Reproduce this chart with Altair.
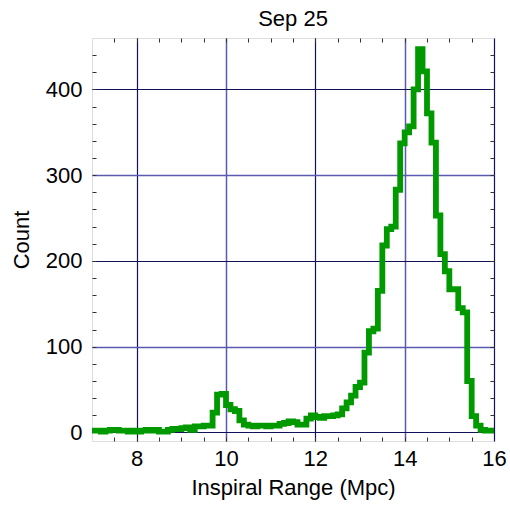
import altair as alt
import pandas as pd

# Histogram of inspiral range, 0.1 Mpc bins from 7.0 to 16.0 Mpc
bin_width = 0.1
first_edge = 7.0
counts = [
    2, 2, 1, 2, 3, 3, 2, 2, 1, 2,          # 7.0 - 7.9
    1, 2, 3, 2, 3, 1, 1, 3, 4, 4,          # 8.0 - 8.9
    5, 6, 3, 7, 7, 8, 8, 23, 44, 45,       # 9.0 - 9.9
    32, 27, 25, 14, 9, 8, 7, 8, 8, 7,      # 10.0 - 10.9
    8, 8, 10, 11, 13, 12, 9, 9, 16, 20,    # 11.0 - 11.9
    18, 17, 19, 19, 20, 21, 28, 35, 43, 53,  # 12.0 - 12.9
    58, 93, 118, 121, 165, 218, 237, 240, 283, 337,  # 13.0 - 13.9
    350, 357, 400, 447, 421, 372, 338, 253, 208, 188,  # 14.0 - 14.9
    167, 167, 145, 140, 60, 19, 8, 3, 2, 2,  # 15.0 - 15.9
]

x_ticks = [8, 10, 12, 14, 16]
y_ticks = [0, 100, 200, 300, 400]
x_minor = [7.5, 8, 8.5, 9, 9.5, 10, 10.5, 11, 11.5, 12, 12.5, 13, 13.5, 14, 14.5, 15, 15.5]
y_minor = list(range(20, 460, 20))

edges = [round(first_edge + bin_width * i, 1) for i in range(len(counts))]
# closing point so the last step reaches the right edge
df = pd.DataFrame({
    "range": edges + [round(first_edge + bin_width * len(counts), 1)],
    "count": counts + [counts[-1]],
})

FONT = "Liberation Sans"
SIZE = 22
DARK = "#12125a"
LIGHT = "#5a5ab0"

x_scale = alt.Scale(domain=[7, 16], nice=False, zero=False)
y_scale = alt.Scale(domain=[-10, 460], nice=False, zero=False)

grid_color = lambda test: alt.condition(test, alt.value(DARK), alt.value(LIGHT))
grid_width = lambda test: alt.condition(test, alt.value(1.2), alt.value(1.5))

hist = alt.Chart(df).mark_line(
    interpolate="step-after",
    color="#009a00",
    strokeWidth=5.8,
    strokeJoin="miter",
    strokeCap="butt",
    clip=True,
).encode(
    x=alt.X("range:Q", scale=x_scale, axis=alt.Axis(
        orient="bottom", values=x_ticks, format="d", title="Inspiral Range (Mpc)",
        grid=True, gridColor=grid_color("datum.value % 4 === 0"),
        gridWidth=grid_width("datum.value % 4 === 0"),
        ticks=False, domain=False, labelFlush=False, labelFontSize=SIZE, labelFont=FONT,
        labelColor="#000", labelPadding=7, titleFontSize=SIZE, titleFont=FONT,
        titleFontWeight="normal", titleColor="#000", titlePadding=8,
    )),
    y=alt.Y("count:Q", scale=y_scale, axis=alt.Axis(
        orient="left", values=y_ticks, format="d", title="Count",
        grid=True, gridColor=grid_color("datum.value % 200 === 0"),
        gridWidth=grid_width("datum.value % 200 === 0"),
        ticks=False, domain=False, labelFlush=False, labelFontSize=SIZE, labelFont=FONT,
        labelColor="#000", labelPadding=10, titleFontSize=SIZE, titleFont=FONT,
        titleFontWeight="normal", titleColor="#000", titlePadding=12,
    )),
)

def minor_axis(orient, values):
    return alt.Axis(
        orient=orient, values=values, title=None, labels=False, grid=False,
        domain=False, ticks=True, tickSize=4, tickColor="#333", tickWidth=1,
        offset=-4,
    )

# inward minor ticks on all four sides
ticks_bl = alt.Chart(df).mark_point(opacity=0).encode(
    x=alt.X("range:Q", scale=x_scale, axis=minor_axis("bottom", x_minor)),
    y=alt.Y("count:Q", scale=y_scale, axis=minor_axis("left", y_minor)),
)
ticks_tr = alt.Chart(df).mark_point(opacity=0).encode(
    x=alt.X("range:Q", scale=x_scale, axis=minor_axis("top", x_minor)),
    y=alt.Y("count:Q", scale=y_scale, axis=minor_axis("right", y_minor)),
)

chart = alt.layer(hist, ticks_bl, ticks_tr).resolve_axis(
    x="independent", y="independent"
).properties(
    width=402,
    height=403,
    title=alt.TitleParams("Sep 25", fontSize=SIZE, font=FONT, fontWeight="normal",
                          color="#000", offset=7),
    autosize=alt.AutoSizeParams(type="none"),
    padding={"left": 92, "top": 38, "right": 14, "bottom": 71},
).configure_view(
    stroke="#555", strokeWidth=1.5,
).configure(background="white")

chart.save("out.html", embed_options={"renderer": "svg", "actions": False})
